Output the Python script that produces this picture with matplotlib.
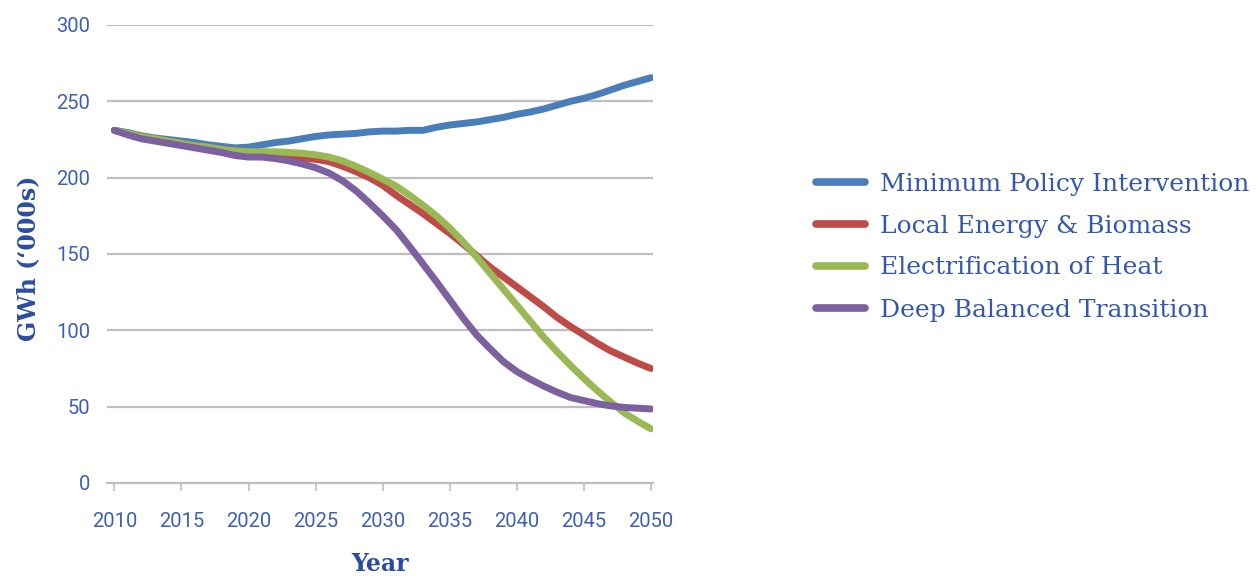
import matplotlib
matplotlib.use("Agg")
import matplotlib.pyplot as plt
import numpy as np

years = list(range(2010, 2051))

min_policy = [231, 229.5, 227.5, 226, 225, 224, 223, 221.5, 220.5, 219.5,
              220, 221.5, 223, 224, 225.5, 227, 228, 228.5, 229, 230,
              230.5, 230.5, 231, 231, 233, 234.5, 235.5, 236.5, 238, 239.5,
              241.5, 243, 245, 247.5, 250, 252, 254.5, 257.5, 260.5, 263, 265.5]

local_energy = [231, 229, 227, 225.5, 224, 222.5, 221, 219.5, 218.5, 217.5,
                216.5, 216, 215, 214, 213, 212, 210.5, 207.5, 204, 200,
                195, 188.5, 182.5, 176.5, 170, 163.5, 156.5, 149, 141.5, 135,
                128.5, 122, 115.5, 108.5, 102.5, 97, 91.5, 86.5, 82.5, 78.5, 75]

electrification = [231, 229, 227, 225.5, 224, 222.5, 221, 220, 218.5, 217.5,
                   217, 217, 217, 216.5, 216, 215, 213.5, 211, 207.5, 203.5,
                   199, 194.5, 188.5, 182, 175, 167, 158, 148, 137.5, 127,
                   116.5, 106, 95.5, 86, 77, 68.5, 60.5, 53, 46, 40.5, 35.5]

deep_balanced = [231, 228, 225.5, 224, 222.5, 221, 219.5, 218, 216.5, 214.5,
                 213.5, 213.5, 212.5, 211, 209, 206.5, 203, 198, 191.5, 183.5,
                 175, 166, 155, 143.5, 132, 120, 108, 97, 88, 79.5,
                 73, 68, 63.5, 59.5, 56, 54, 52, 50.5, 49.5, 49, 48.5]

series_names = ["Minimum Policy Intervention", "Local Energy & Biomass",
                "Electrification of Heat", "Deep Balanced Transition"]
series_values = [min_policy, local_energy, electrification, deep_balanced]
colors = ["#4a7ebb", "#be4b48", "#98b954", "#7d60a0"]

x_ticks = list(range(2010, 2051, 5))
y_ticks = [0, 50, 100, 150, 200, 250, 300]

tick_color = "#3d5fb5"
label_color = "#2a4d9f"
grid_color = "#bfbfbf"

fig = plt.figure(figsize=(12.6, 5.76), dpi=100)
ax = fig.add_axes([107/1260, 1-483/576, (653-107)/1260, (483-25)/576])

for y in y_ticks[1:]:
    ax.axhline(y, color=grid_color, lw=1.6, zorder=1)

lines = []
for name, vals, c in zip(series_names, series_values, colors):
    ln, = ax.plot(years, vals, color=c, lw=5, solid_capstyle="round",
                  solid_joinstyle="round", label=name, zorder=3)
    lines.append(ln)

ax.set_xlim(2009.45, 2050.15)
ax.set_ylim(0, 300)
ax.set_xticks(x_ticks)
ax.set_yticks(y_ticks)

for s in ["top", "right", "left"]:
    ax.spines[s].set_visible(False)
ax.spines["bottom"].set_color(grid_color)
ax.spines["bottom"].set_linewidth(1.6)

ax.tick_params(axis="x", colors=grid_color, length=6, width=1.2, pad=15,
               labelcolor=tick_color, labelsize=14.5)
ax.tick_params(axis="y", length=0, pad=12, labelcolor=tick_color, labelsize=14.5)
for lab in ax.get_xticklabels() + ax.get_yticklabels():
    lab.set_family(["Roboto", "DejaVu Sans"])

fig.text(28/1260, 1-258/576, "GWh (\u2018000s)", rotation=90, ha="center", va="center",
         color=label_color, fontsize=17, fontweight="bold", family=["DejaVu Serif"])
fig.text(380/1260, 1-564/576, "Year", ha="center", va="center",
         color=label_color, fontsize=17, fontweight="bold", family=["DejaVu Serif"])

leg = fig.legend(handles=lines, labels=series_names, loc="center left",
                 bbox_to_anchor=(816/1260, 1-247/576), frameon=False,
                 prop={"family": "DejaVu Serif", "size": 18},
                 handlelength=1.95, handletextpad=0.62, labelspacing=0.76,
                 borderaxespad=0, borderpad=0)
for t in leg.get_texts():
    t.set_color("#3358ad")
for h in leg.legend_handles:
    h.set_linewidth(5.5)

fig.savefig("out.png", dpi=100)
